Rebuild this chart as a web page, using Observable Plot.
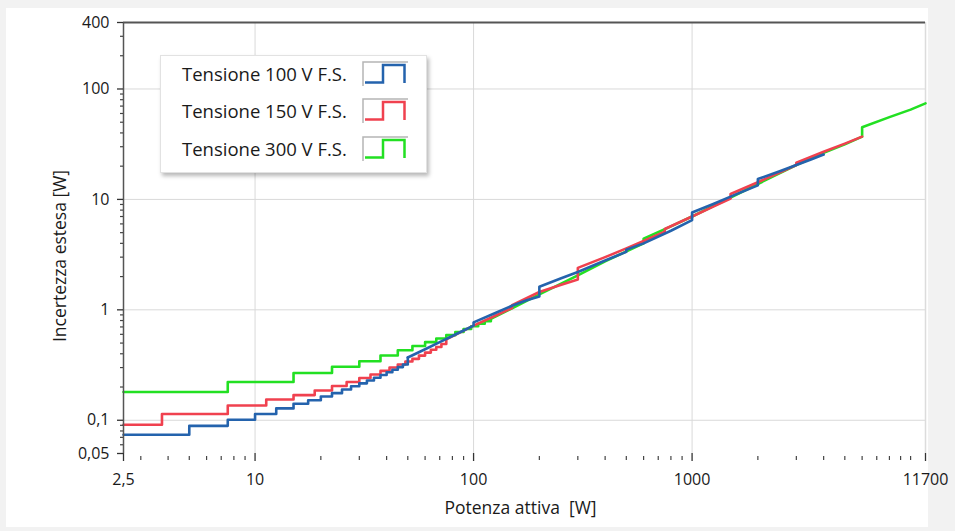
<!DOCTYPE html>
<html><head><meta charset="utf-8">
<script src="https://cdn.jsdelivr.net/npm/d3@7"></script>
<script src="https://cdn.jsdelivr.net/npm/@observablehq/plot@0.6"></script>
<style>
body{margin:0;background:#f2f2f2;}
#wrap{position:relative;width:955px;height:531px;background:#f2f2f2;font-family:"Open Sans",sans-serif;}
#panel{position:absolute;left:6px;top:8px;width:922px;height:519px;background:#fff;}
#chart{position:absolute;left:0;top:0;}
#legend{position:absolute;left:160px;top:55px;width:265px;height:116px;background:#fff;border:1px solid #e2e2e2;box-shadow:2px 3px 4px rgba(0,0,0,0.28);}
.li{position:absolute;left:21px;height:26px;font-size:18.5px;color:#1a1a1a;line-height:26px;white-space:nowrap;}
.sw{position:absolute;left:201px;}
</style></head><body>
<div id="wrap"><div id="panel"></div><div id="chart"></div><div id="legend"></div></div>
<script>
const seriesNames = ["Tensione 100 V F.S.", "Tensione 150 V F.S.", "Tensione 300 V F.S."];
const seriesColors = ["#2463ad", "#f0414f", "#22e022"];

// Tensione 100 V F.S. (blue): staircase part, then continuous part
const blueStepX = [2.5, 5, 7.5, 10, 12.5, 15, 17.5, 20, 22.5, 25, 27.5, 30, 32.5, 35, 37.5, 40, 42.5, 45, 47.5, 50];
const blueStepY = [0.074, 0.089, 0.101, 0.114, 0.128, 0.141, 0.152, 0.164, 0.176, 0.19, 0.203, 0.216, 0.229, 0.243, 0.257, 0.272, 0.287, 0.303, 0.32, 0.37];
const blueLineX = [50, 60, 70, 80, 90, 100, 100, 125, 150, 175, 200, 200, 250, 300, 400, 500, 500, 600, 800, 1000, 1000, 1250, 1500, 2000, 2000, 2500, 3000, 3500, 4000];
const blueLineY = [0.37, 0.44, 0.51, 0.58, 0.65, 0.72, 0.77, 0.93, 1.09, 1.22, 1.32, 1.62, 1.92, 2.2, 2.8, 3.35, 3.5, 4.0, 5.2, 6.5, 7.6, 9.1, 10.6, 13.4, 15.3, 17.9, 20.5, 23, 25.5];

// Tensione 150 V F.S. (red)
const redStepX = [2.5, 3.75, 7.5, 11.25, 15, 18.75, 22.5, 26.25, 30, 33.75, 37.5, 41.25, 45, 48.75, 52.5, 56.25, 60, 63.75, 67.5, 71.25, 75];
const redStepY = [0.091, 0.114, 0.136, 0.154, 0.169, 0.186, 0.204, 0.222, 0.241, 0.26, 0.28, 0.3, 0.32, 0.34, 0.36, 0.385, 0.41, 0.435, 0.46, 0.49, 0.54];
const redLineX = [75, 100, 125, 150, 150, 200, 250, 300, 300, 400, 500, 600, 750, 750, 1000, 1250, 1500, 1500, 2000, 2500, 3000, 3000, 4000, 5000, 6000];
const redLineY = [0.54, 0.72, 0.88, 1.04, 1.1, 1.45, 1.68, 1.88, 2.4, 3.0, 3.6, 4.2, 5.1, 5.4, 7.0, 8.6, 10.2, 11.2, 14.3, 17.4, 20.5, 21.5, 27, 32, 37];

// Tensione 300 V F.S. (green)
const greenStepX = [2.5, 7.5, 15, 22.5, 30, 37.5, 45, 52.5, 60, 67.5, 75, 82.5, 90, 97.5, 105, 112.5, 120];
const greenStepY = [0.18, 0.222, 0.268, 0.305, 0.342, 0.386, 0.43, 0.47, 0.51, 0.55, 0.59, 0.63, 0.67, 0.71, 0.75, 0.79, 0.83];
const greenLineX = [120, 150, 200, 300, 400, 600, 600, 800, 1000, 1500, 2000, 3000, 4000, 5000, 6000, 6000, 8000, 10000, 11700];
const greenLineY = [0.83, 1.03, 1.38, 2.05, 2.75, 4.0, 4.4, 5.7, 7.0, 10.4, 13.8, 20.5, 26.5, 31.5, 37, 45, 55.6, 65, 74];

// axis ticks
const xMajorTicks = [2.5, 10, 100, 1000, 11700];
const xMajorLabels = ["2,5", "10", "100", "1000", "11700"];
const xMinorTicks = [3, 4, 5, 6, 7, 8, 9, 20, 30, 40, 50, 60, 70, 80, 90, 200, 300, 400, 500, 600, 700, 800, 900, 2000, 3000, 4000, 5000, 6000, 7000, 8000, 9000, 10000];
const yMajorTicks = [0.05, 0.1, 1, 10, 100, 400];
const yMajorLabels = ["0,05", "0,1", "1", "10", "100", "400"];
const yMinorTicks = [0.06, 0.07, 0.08, 0.09, 0.2, 0.3, 0.4, 0.5, 0.6, 0.7, 0.8, 0.9, 2, 3, 4, 5, 6, 7, 8, 9, 20, 30, 40, 50, 60, 70, 80, 90, 200, 300];
const xGrid = [10, 100, 1000];
const yGrid = [0.1, 1, 10, 100];

const rows = (xs, ys, s) => xs.map((x, i) => ({x, y: ys[i], s}));
const series = [
  {step: rows(greenStepX, greenStepY, 2), line: rows(greenLineX, greenLineY, 2)},
  {step: rows(redStepX, redStepY, 1), line: rows(redLineX, redLineY, 1)},
  {step: rows(blueStepX, blueStepY, 0), line: rows(blueLineX, blueLineY, 0)}
];

const lineMarks = series.flatMap(d => [
  Plot.line(d.step, {x: "x", y: "y", curve: "step-after", stroke: seriesColors[d.step[0].s], strokeWidth: 2.6}),
  Plot.line(d.line, {x: "x", y: "y", stroke: seriesColors[d.line[0].s], strokeWidth: 2.6})
]);

const lab = (ticks, labels) => v => { const i = ticks.findIndex(t => Math.abs(t - v) / t < 1e-6); return i >= 0 ? labels[i] : ""; };

const chart = Plot.plot({
  width: 955, height: 531,
  marginLeft: 123, marginRight: 30, marginTop: 22, marginBottom: 78,
  style: {background: "transparent", fontFamily: "'Open Sans', sans-serif", fontSize: "16px", color: "#1a1a1a"},
  x: {type: "log", domain: [2.5, 11700]},
  y: {type: "log", domain: [0.05, 400]},
  marks: [
    Plot.gridX(xGrid, {stroke: "#d9d9d9", strokeOpacity: 1}),
    Plot.gridY(yGrid, {stroke: "#d9d9d9", strokeOpacity: 1}),
    Plot.ruleX([11700], {stroke: "#dcdcdc", strokeWidth: 1.5}),
    ...lineMarks,
    Plot.ruleY([400], {stroke: "#555", strokeWidth: 2}),
    Plot.ruleX([2.5], {stroke: "#555", strokeWidth: 1.5}),
    Plot.axisY({ticks: yMajorTicks, tickSize: 6, tickPadding: 8, text: lab(yMajorTicks, yMajorLabels), label: null, fontSize: 16, stroke: "#333", strokeWidth: 1.3}),
    Plot.axisY({ticks: yMinorTicks, tickSize: 3, text: () => "", label: null, stroke: "#444", strokeWidth: 1.2}),
    Plot.axisX({ticks: xMajorTicks, tickSize: 8, tickPadding: 12, text: lab(xMajorTicks, xMajorLabels), label: null, fontSize: 16, stroke: "#333", strokeWidth: 1.3}),
    Plot.axisX({ticks: xMinorTicks, tickSize: 4, text: () => "", label: null, stroke: "#444", strokeWidth: 1.2, dy: 3}),
    Plot.text(["Incertezza estesa [W]"], {frameAnchor: "left", textAnchor: "middle", dx: -63, dy: 18, rotate: -90, fontSize: 17.5, fill: "#1a1a1a"}),
    Plot.text(["Potenza attiva  [W]"], {frameAnchor: "bottom", textAnchor: "middle", dx: -4, dy: 60, fontSize: 17.5, fill: "#1a1a1a"})
  ]
});
document.getElementById("chart").appendChild(chart);

// legend
const legend = document.getElementById("legend");
const centers = [18, 55, 93];
seriesNames.forEach((name, i) => {
  const t = document.createElement("div");
  t.className = "li";
  t.style.top = (centers[i] - 13) + "px";
  t.textContent = name;
  legend.appendChild(t);
  const ns = "http://www.w3.org/2000/svg";
  const svg = document.createElementNS(ns, "svg");
  svg.setAttribute("width", 46); svg.setAttribute("height", 25);
  svg.setAttribute("class", "sw");
  svg.style.top = (centers[i] - 13) + "px";
  const r = document.createElementNS(ns, "path");
  r.setAttribute("d", "M1,25 V1 H46");
  r.setAttribute("fill", "none"); r.setAttribute("stroke", "#b5b5b5"); r.setAttribute("stroke-width", 1.5);
  svg.appendChild(r);
  const p = document.createElementNS(ns, "path");
  p.setAttribute("d", "M3,21.5 H21 V4 H42.5 V22");
  p.setAttribute("fill", "none"); p.setAttribute("stroke", seriesColors[i]); p.setAttribute("stroke-width", 2.5);
  svg.appendChild(p);
  legend.appendChild(svg);
});
</script>
</body></html>
